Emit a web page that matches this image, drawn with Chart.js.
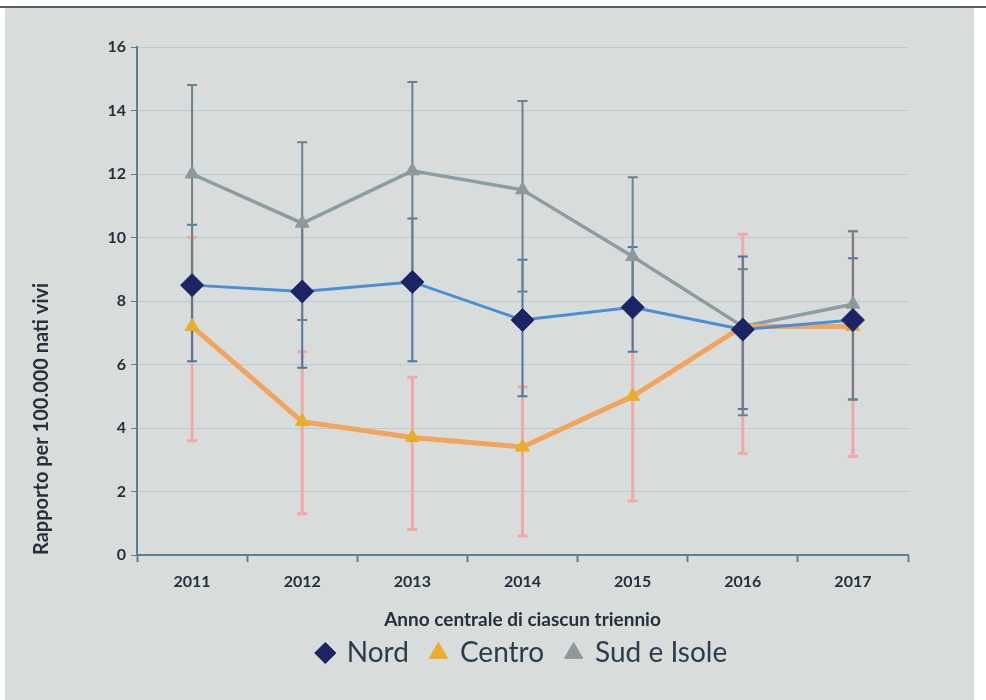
<!DOCTYPE html>
<html><head><meta charset="utf-8">
<script src="https://cdn.jsdelivr.net/npm/chart.js@4.4.1/dist/chart.umd.min.js"></script>
<style>
html,body{margin:0;padding:0;background:#fff;width:986px;height:700px;overflow:hidden}
#topline{position:absolute;left:0;top:6px;width:986px;height:2px;background:#5a5a5a}
#panel{position:absolute;left:5px;top:8px;width:969px;height:692px;background:#d8dddb}
canvas{display:block}
</style></head><body>
<div id="topline"></div>
<div id="panel"><canvas id="c" width="969" height="692"></canvas></div>
<script>
const categories = ['2011','2012','2013','2014','2015','2016','2017'];
const seriesNames = ['Nord','Centro','Sud e Isole'];
const nordValues   = [8.5, 8.3, 8.6, 7.4, 7.8, 7.1, 7.4];
const nordLow      = [6.1, 5.9, 6.1, 5.0, 6.4, 4.6, 4.9];
const nordHigh     = [10.4, 10.45, 10.6, 9.3, 9.7, 9.4, 9.35];
const centroValues = [7.2, 4.2, 3.7, 3.4, 5.0, 7.2, 7.2];
const centroLow    = [3.6, 1.3, 0.8, 0.6, 1.7, 3.2, 3.1];
const centroHigh   = [10.0, 6.4, 5.6, 5.3, 7.8, 10.1, 10.2];
const sudValues    = [12.0, 10.45, 12.1, 11.5, 9.4, 7.2, 7.9];
const sudLow       = [8.5, 7.4, 8.6, 8.3, 7.8, 4.4, 4.9];
const sudHigh      = [14.8, 13.0, 14.9, 14.3, 11.9, 9.0, 10.2];
const yTicksMin = 0, yTicksMax = 16, yTickStep = 2;
const yTitle = 'Rapporto per 100.000 nati vivi';
const xTitle = 'Anno centrale di ciascun triennio';

const axisColor = '#5c7f98';
const textColor = '#25303a';

const errorBars = {
  id: 'errorBars',
  beforeDatasetsDraw(chart) {
    const ctx = chart.ctx, ys = chart.scales.y;
    const specs = [
      {ds: 1, low: centroLow, high: centroHigh, color: '#f2a9a6', w: 3},
      {ds: 0, low: nordLow, high: nordHigh, color: '#4d78a3', w: 2},
      {ds: 2, low: sudLow, high: sudHigh, color: '#6b818e', w: 2}
    ];
    specs.forEach(s => {
      const meta = chart.getDatasetMeta(s.ds);
      ctx.save();
      ctx.strokeStyle = s.color; ctx.lineWidth = s.w;
      meta.data.forEach((pt, i) => {
        const x = pt.x, y1 = ys.getPixelForValue(s.low[i]), y2 = ys.getPixelForValue(s.high[i]);
        ctx.beginPath();
        ctx.moveTo(x, y1); ctx.lineTo(x, y2);
        ctx.moveTo(x - 5, y1); ctx.lineTo(x + 5, y1);
        ctx.moveTo(x - 5, y2); ctx.lineTo(x + 5, y2);
        ctx.stroke();
      });
      ctx.restore();
    });
  }
};

new Chart(document.getElementById('c'), {
  type: 'line',
  data: {
    labels: categories,
    datasets: [
      {label: seriesNames[0], data: nordValues, borderColor: '#4a8fd6', borderWidth: 3,
       pointStyle: 'rectRot', pointRadius: 11.5, pointBackgroundColor: '#1b2566', pointBorderColor: '#1b2566', pointBorderWidth: 1, tension: 0},
      {label: seriesNames[1], data: centroValues, borderColor: '#f2a45c', borderWidth: 5,
       pointStyle: 'triangle', pointRadius: 8, pointBackgroundColor: '#e8ad2a', pointBorderColor: '#e8ad2a', pointBorderWidth: 1, tension: 0},
      {label: seriesNames[2], data: sudValues, borderColor: '#8c9ca0', borderWidth: 3.5,
       pointStyle: 'triangle', pointRadius: 8, pointBackgroundColor: '#8d999b', pointBorderColor: '#8d999b', pointBorderWidth: 1, tension: 0}
    ]
  },
  options: {
    responsive: false, animation: false, devicePixelRatio: 1,
    layout: {padding: {left: 0, right: 66, top: 39, bottom: 23}},
    plugins: {
      tooltip: {enabled: false},
      legend: {
        position: 'bottom', fullSize: false,
        labels: {usePointStyle: true, boxWidth: 15, boxHeight: 15, padding: 22,
                 color: '#2b3c4c', font: {family: 'Lato', size: 28}}
      }
    },
    scales: {
      x: {
        offset: true,
        grid: {offset: true, drawOnChartArea: false, tickLength: 7, tickColor: axisColor, tickWidth: 2},
        border: {color: axisColor, width: 2},
        ticks: {color: textColor, font: {family: 'Lato', size: 16, weight: 'bold'}, padding: 10},
        title: {display: true, text: xTitle, color: textColor,
                font: {family: 'Lato', size: 19, weight: 'bold', lineHeight: 1}, padding: {top: 0, bottom: -12}},
        afterFit(s) { s.height = 62; }
      },
      y: {
        min: yTicksMin, max: yTicksMax,
        grid: {color: '#b7cbd7', lineWidth: 1, tickLength: 6, tickColor: axisColor},
        border: {color: axisColor, width: 2},
        ticks: {stepSize: yTickStep, color: textColor, font: {family: 'Lato', size: 16, weight: 'bold'}, padding: 5},
        title: {display: true, text: yTitle, color: textColor, align: 'start',
                font: {family: 'Lato', size: 20, weight: 'bold'}, padding: {top: 25, bottom: 0}},
        afterFit(s) { s.width = 132; }
      }
    }
  },
  plugins: [errorBars]
});
</script>
</body></html>
